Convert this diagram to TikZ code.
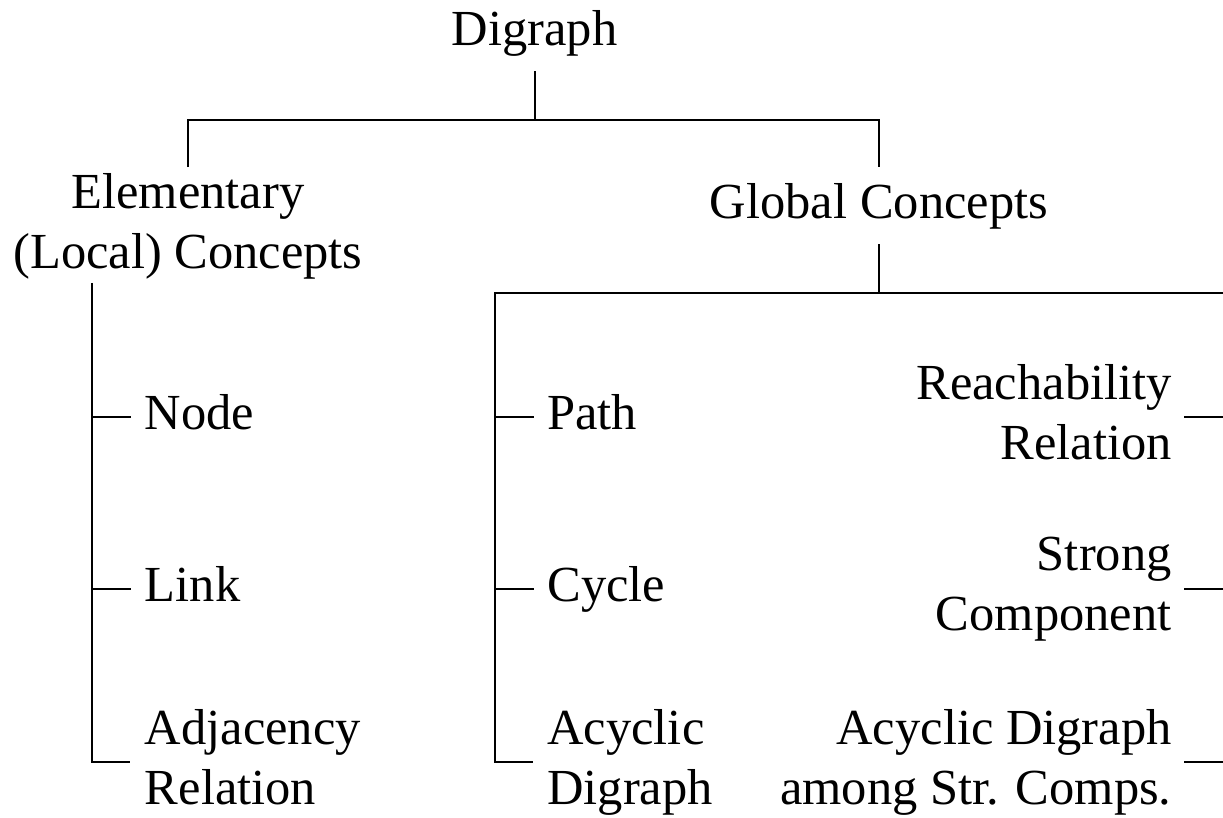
\documentclass[tikz,border=0pt]{standalone}
\usepackage{fontspec}
\setmainfont{Liberation Serif}
\newcommand\mystrut{\rule[-5.5pt]{0pt}{22.75pt}}
\begin{document}
\begin{tikzpicture}[x=0.5pt,y=-0.5pt,
  every node/.style={font=\fontsize{25.25}{30}\selectfont, inner sep=0pt},
  conn/.style={line width=1pt, line cap=rect},
  head/.style={inner xsep=0pt, inner ysep=8pt, align=center},
  leaf/.style={anchor=west, inner xsep=7.25pt, align=left},
  rleaf/.style={anchor=east, inner xsep=6.5pt, align=right}]
\useasboundingbox (0,0) rectangle (1223,818);

% heads
\node[head] (dg) at (534.5,33) {\mystrut Digraph};
\node[head, inner ysep=2.75pt] (elem) at (188,226) {\mystrut Elementary\\\mystrut (Local) Concepts};
\node[head] (glob) at (879,206) {\mystrut Global Concepts};

% junction coordinates
\coordinate (bar1) at (534.5,120);
\coordinate (ls) at (92,283);
\coordinate (gl) at (495,293);
\coordinate (gm) at (879,293);
\coordinate (gr) at (1223,293);

% local leaves
\node[leaf] (node) at (130,417) {\mystrut Node};
\node[leaf] (link) at (130,589) {\mystrut Link};
\node[leaf] (adj) at (130,762) {\mystrut Adjacency\\\mystrut Relation};

% global leaves left
\node[leaf, inner xsep=7pt] (path) at (533,417) {\mystrut Path};
\node[leaf, inner xsep=7pt] (cyc) at (533,589) {\mystrut Cycle};
\node[leaf, inner xsep=7pt] (acyc) at (533,762) {\mystrut Acyclic\\\mystrut Digraph};

% global leaves right
\node[rleaf] (reach) at (1185,417) {\mystrut Reachability\\\mystrut Relation};
\node[rleaf] (strong) at (1185,589) {\mystrut Strong\\\mystrut Component};
\node[rleaf] (adsc) at (1185,762) {\mystrut Acyclic Digraph\\\mystrut among Str. Comps.};

% connectors
\draw[conn] (dg.south) -- (bar1);
\draw[conn, line cap=butt] (elem.north) |- (bar1) -| (glob.north);
\draw[conn] (glob.south) -- (gm);
\draw[conn, line cap=butt] (gr) -- (gl) |- (acyc.west);
\draw[conn] (gl |- path.west) -- (path.west);
\draw[conn] (gl |- cyc.west) -- (cyc.west);
\draw[conn, line cap=butt] (ls) |- (adj.west);
\draw[conn] (ls |- node.west) -- (node.west);
\draw[conn] (ls |- link.west) -- (link.west);
\draw[conn] (reach.east) -- (reach.east -| gr);
\draw[conn] (strong.east) -- (strong.east -| gr);
\draw[conn] (adsc.east) -- (adsc.east -| gr);
\end{tikzpicture}
\end{document}
